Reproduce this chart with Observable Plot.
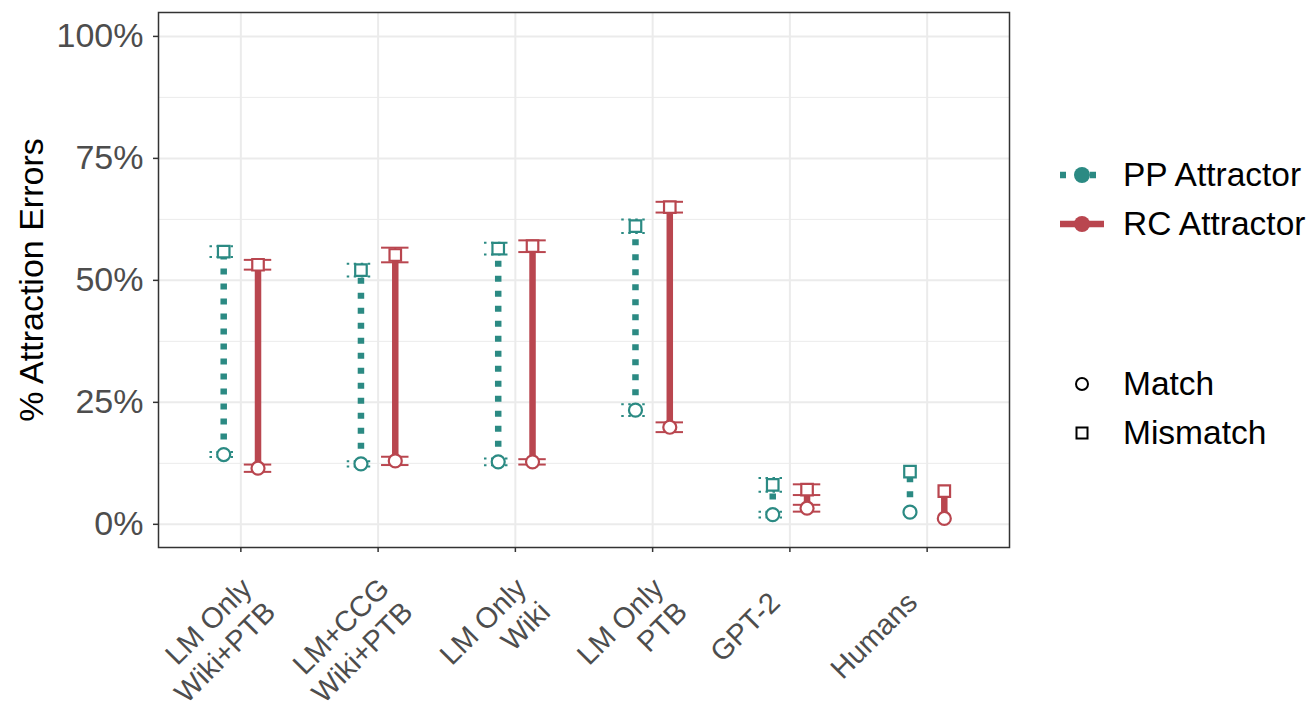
<!DOCTYPE html>
<html>
<head>
<meta charset="utf-8">
<script src="https://cdn.jsdelivr.net/npm/d3@7"></script>
<script src="https://cdn.jsdelivr.net/npm/@observablehq/plot@0.6"></script>
<style>
  body { margin: 0; background: #fff; font-family: "Liberation Sans", Arial, Helvetica, sans-serif; }
  #wrap { position: relative; width: 1315px; height: 708px; overflow: hidden; }
  #chart { position: absolute; left: 0; top: 0; }
  #legend { position: absolute; left: 1040px; top: 0; width: 275px; height: 708px; }
  .item { position: absolute; left: 0; height: 40px; display: flex; align-items: center; font-size: 33.5px; color: #000; white-space: nowrap; }
  .item svg { display: block; margin-right: 3px; }
</style>
</head>
<body>
<div id="wrap"><div id="chart"></div><div id="legend"></div></div>
<script>
// Model / population labels along the x axis
const categories = ["LM Only\nWiki+PTB", "LM+CCG\nWiki+PTB", "LM Only\nWiki", "LM Only\nPTB", "GPT-2", "Humans"];

// % attraction errors, PP attractor sentences
const ppMatch = [14.3, 12.4, 12.8, 23.4, 2.0, 2.5];
const ppMismatch = [55.9, 52.1, 56.5, 61.1, 8.1, 10.8];
const ppMatchErr = [0.5, 0.55, 0.7, 1.2, 0.6, null];
const ppMismatchErr = [1.1, 1.3, 1.2, 1.4, 1.4, null];

// % attraction errors, RC attractor sentences
const rcMatch = [11.5, 13.0, 12.8, 19.9, 3.3, 1.2];
const rcMismatch = [53.2, 55.2, 57.0, 65.0, 7.1, 6.8];
const rcMatchErr = [0.75, 0.85, 0.55, 1.0, 0.7, null];
const rcMismatchErr = [1.0, 1.5, 1.2, 1.1, 1.1, null];

const seriesNames = ["PP Attractor", "RC Attractor"];
const seriesColors = ["#2b8a83", "#b9464f"];
const agreement = ["Match", "Mismatch"];

// Build long-form tables from the arrays above
const dodge = 0.125;
const series = [
  {name: seriesNames[0], color: seriesColors[0], off: -dodge, match: ppMatch, mismatch: ppMismatch, matchErr: ppMatchErr, mismatchErr: ppMismatchErr, dash: "6,9", errDash: "2.5,4.5"},
  {name: seriesNames[1], color: seriesColors[1], off: dodge, match: rcMatch, mismatch: rcMismatch, matchErr: rcMatchErr, mismatchErr: rcMismatchErr, dash: null, errDash: null}
];

const segs = [], pts = [];
for (const s of series) {
  categories.forEach((c, i) => {
    const x = i + 1 + s.off;
    segs.push({series: s.name, x, match: s.match[i], mismatch: s.mismatch[i]});
    pts.push({series: s.name, x, y: s.match[i], kind: agreement[0], err: s.matchErr[i]});
    pts.push({series: s.name, x, y: s.mismatch[i], kind: agreement[1], err: s.mismatchErr[i]});
  });
}

const tickPos = categories.map((c, i) => i + 1);
const twoLine = tickPos.filter(i => categories[i - 1].includes("\n"));
const oneLine = tickPos.filter(i => !categories[i - 1].includes("\n"));
const halfCap = 0.1;

const marks = [
  Plot.gridY([12.5, 37.5, 62.5, 87.5], {stroke: "#ebebeb", strokeOpacity: 1, strokeWidth: 1}),
  Plot.gridY([0, 25, 50, 75, 100], {stroke: "#ebebeb", strokeOpacity: 1, strokeWidth: 2}),
  Plot.gridX(tickPos, {stroke: "#ebebeb", strokeOpacity: 1, strokeWidth: 2})
];

// error bars (drawn first so the points sit on top)
for (const s of series) {
  const e = pts.filter(d => d.series === s.name && d.err != null);
  const common = {stroke: s.color, strokeWidth: 2, strokeDasharray: s.errDash};
  marks.push(
    Plot.ruleX(e, {x: "x", y1: d => d.y - d.err, y2: d => d.y + d.err, ...common}),
    Plot.ruleY(e, {y: d => d.y - d.err, x1: d => d.x - halfCap, x2: d => d.x + halfCap, ...common}),
    Plot.ruleY(e, {y: d => d.y + d.err, x1: d => d.x - halfCap, x2: d => d.x + halfCap, ...common})
  );
}
// match → mismatch connectors
for (const s of series) {
  marks.push(Plot.link(segs.filter(d => d.series === s.name), {
    x1: "x", x2: "x", y1: "match", y2: "mismatch",
    stroke: s.color, strokeWidth: 6.5, strokeDasharray: s.dash, strokeLinecap: "butt"
  }));
}
const labelStyle = {x: d => d, text: d => categories[d - 1], frameAnchor: "bottom", rotate: -45, textAnchor: "end", lineAnchor: "top", fontSize: 29, fill: "#4d4d4d", lineHeight: 1.15};
marks.push(
  Plot.dot(pts, {x: "x", y: "y", symbol: "kind", r: 6.5, fill: "white", stroke: "series", strokeWidth: 2.2}),
  Plot.frame({stroke: "#333333", strokeWidth: 1.5}),
  Plot.axisY([0, 25, 50, 75, 100], {tickFormat: d => d + "%", tickSize: 5, tickPadding: 10, fontSize: 34, stroke: "#333333", fill: "#4d4d4d", strokeWidth: 1.5, label: null}),
  Plot.axisX(tickPos, {tickSize: 5, tickFormat: () => "", stroke: "#333333", strokeWidth: 1.5, label: null}),
  Plot.text(twoLine, {...labelStyle, dx: -4, dy: 26}),
  Plot.text(oneLine, {...labelStyle, dx: -25, dy: 40}),
  Plot.text(["% Attraction Errors"], {frameAnchor: "left", dx: -126, rotate: -90, textAnchor: "middle", lineAnchor: "middle", fontSize: 34, fill: "#000"})
);

const chart = Plot.plot({
  width: 1030,
  height: 708,
  marginLeft: 158,
  marginRight: 21,
  marginTop: 12,
  marginBottom: 161,
  style: {fontFamily: "'Liberation Sans', Arial, Helvetica, sans-serif", background: "white"},
  x: {type: "linear", domain: [0.4, 6.6], axis: null},
  y: {domain: [-4.75, 104.9], axis: null},
  color: {domain: seriesNames, range: seriesColors},
  symbol: {domain: agreement, range: ["circle", "square"]},
  marks
});
document.getElementById("chart").appendChild(chart);

// Legend to the right of the panel
const legend = document.getElementById("legend");
const ns = "http://www.w3.org/2000/svg";
function item(top, label, draw) {
  const div = document.createElement("div");
  div.className = "item";
  div.style.top = (top - 20) + "px";
  const svg = document.createElementNS(ns, "svg");
  svg.setAttribute("width", 80);
  svg.setAttribute("height", 40);
  draw(svg);
  div.appendChild(svg);
  const span = document.createElement("span");
  span.textContent = label;
  div.appendChild(span);
  legend.appendChild(div);
}
function el(svg, tag, attrs) {
  const e = document.createElementNS(ns, tag);
  for (const k in attrs) e.setAttribute(k, attrs[k]);
  svg.appendChild(e);
}
series.forEach((s, i) => {
  item([175, 224][i], s.name, svg => {
    el(svg, "line", {x1: 20, x2: 64, y1: 20, y2: 20, stroke: s.color, "stroke-width": 6.5, "stroke-dasharray": s.dash || "none"});
    el(svg, "circle", {cx: 42, cy: 20, r: 8, fill: s.color});
  });
});
item(384, agreement[0], svg => el(svg, "circle", {cx: 42, cy: 20, r: 6, fill: "white", stroke: "#000", "stroke-width": 2}));
item(433, agreement[1], svg => el(svg, "rect", {x: 36.5, y: 14.5, width: 11, height: 11, fill: "white", stroke: "#000", "stroke-width": 2}));
</script>
</body>
</html>
